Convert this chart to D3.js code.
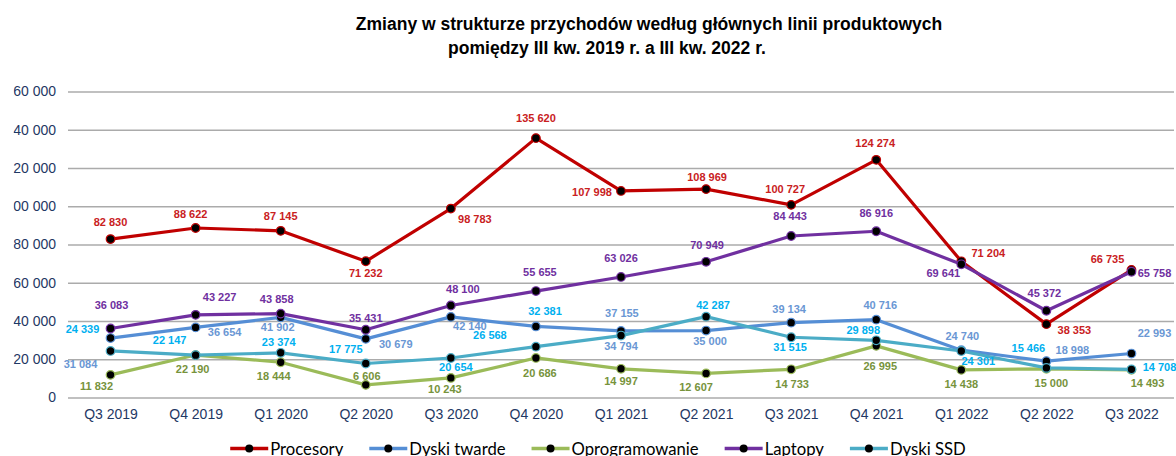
<!DOCTYPE html>
<html>
<head>
<meta charset="utf-8">
<script src="https://cdn.jsdelivr.net/npm/d3@7"></script>
<style>
  html, body { margin: 0; padding: 0; background: #ffffff; }
  svg { display: block; }
</style>
</head>
<body>
<svg id="chart" width="1176" height="456"></svg>
<script>
// ---------------- DATA ----------------
const categories = ["Q3 2019","Q4 2019","Q1 2020","Q2 2020","Q3 2020","Q4 2020","Q1 2021","Q2 2021","Q3 2021","Q4 2021","Q1 2022","Q2 2022","Q3 2022"];
const procesory      = [82830, 88622, 87145, 71232, 98783, 135620, 107998, 108969, 100727, 124274, 71204, 38353, 66735];
const dyskiTwarde    = [31084, 36654, 41902, 30679, 42140, 37155, 34794, 35000, 39134, 40716, 24740, 18998, 22993];
const oprogramowanie = [11832, 22190, 18444, 6606, 10243, 20686, 14997, 12607, 14733, 26995, 14438, 15000, 14493];
const laptopy        = [36083, 43227, 43858, 35431, 48100, 55655, 63026, 70949, 84443, 86916, 69641, 45372, 65758];
const dyskiSSD       = [24339, 22147, 23374, 17775, 20654, 26568, 32381, 42287, 31515, 29898, 24301, 15466, 14708];
const seriesNames    = ["Procesory", "Dyski twarde", "Oprogramowanie", "Laptopy", "Dyski SSD"];
const yTicks         = [0, 20000, 40000, 60000, 80000, 100000, 120000, 140000, 160000];
const titleLines     = ["Zmiany w strukturze przychodów według głównych linii produktowych", "pomiędzy III kw. 2019 r. a III kw. 2022 r."];

// ---------------- STYLE / LAYOUT ----------------
const lineColors  = ["#C00000", "#558ED5", "#9BBB59", "#7030A0", "#4BACC6"];
const labelColors = ["#C9211E", "#6A97D4", "#77933C", "#7030A0", "#00B0F0"];
// data-label offsets (px) relative to each point: [dx, dy]
const labelOffsets = [
  [[0,-17],[-5,-14],[0,-15],[0,12],[24,10],[0,-20],[-29,1],[1,-12],[-6,-16],[-1,-17],[27,-8],[28,6],[-24,-11]],
  [[-30,26],[29,5],[-3,10],[30,5],[19,9],[86,-13],[0,15],[4,10],[-2,-14],[4,-15],[1,-14],[26,-11],[23,-20]],
  [[-14,11],[-3,14],[-7,14],[1,-9],[-6,11],[4,15],[0,12],[-10,14],[1,15],[4,20],[0,14],[5,14],[16,13]],
  [[1,-23],[24,-18],[-4,-15],[0,-12],[12,-16],[4,-19],[0,-19],[1,-17],[-1,-20],[0,-18],[-18,9],[-2,-18],[23,1]],
  [[-28,-22],[-26,-15],[-2,-11],[-20,-14],[5,9],[-46,-12],[-76,-25],[7,-12],[-1,10],[-13,-10],[17,10],[-18,-20],[28,-2]]
];

const seriesValues = [procesory, dyskiTwarde, oprogramowanie, laptopy, dyskiSSD];
const series = seriesNames.map((name, i) => ({
  name, values: seriesValues[i], color: lineColors[i], labelColor: labelColors[i], offsets: labelOffsets[i]
}));

const svg = d3.select("#chart");
svg.append("rect").attr("width", 1176).attr("height", 456).attr("fill", "#ffffff");

const plotLeft = 68, plotRight = 1174, plotTop = 91.5, plotBottom = 397.5;

const x = d3.scalePoint().domain(categories).range([plotLeft, plotRight]).padding(0.5);
const y = d3.scaleLinear().domain([0, 160000]).range([plotBottom, plotTop]);

// Title
svg.append("g").selectAll("text").data(titleLines).join("text")
  .attr("x", (d, i) => i === 0 ? 649 : 607)
  .attr("y", (d, i) => 30 + i * 24)
  .attr("text-anchor", "middle")
  .attr("font-family", "Liberation Sans, Arial, sans-serif")
  .attr("font-weight", "bold")
  .attr("font-size", 17.5)
  .attr("fill", "#000000")
  .text(d => d);

// Gridlines
const yGrid = d3.axisLeft(y).tickValues(yTicks).tickSize(-(plotRight - plotLeft)).tickFormat("");
const gridG = svg.append("g").attr("transform", `translate(${plotLeft},0)`).call(yGrid);
gridG.select(".domain").remove();
gridG.selectAll(".tick line").attr("stroke", "#ABABAB").attr("stroke-width", 1.5);

// Y axis labels (left edge of the picture is cropped, as in the source image)
svg.append("defs").append("clipPath").attr("id", "leftCrop")
  .append("rect").attr("x", 13.5).attr("y", 0).attr("width", 1162).attr("height", 456);
const fmt = v => d3.format(",")(v).replace(/,/g, " ");
const yAxis = d3.axisLeft(y).tickValues(yTicks).tickSize(0).tickPadding(12).tickFormat(fmt);
const yAxisG = svg.append("g").attr("clip-path", "url(#leftCrop)")
  .append("g").attr("transform", `translate(${plotLeft},0)`).call(yAxis);
yAxisG.select(".domain").remove();
yAxisG.selectAll("text")
  .attr("font-family", "Liberation Sans, Arial, sans-serif")
  .attr("font-size", 14)
  .attr("fill", "#1F3864");

// X axis labels
const xAxis = d3.axisBottom(x).tickSize(0).tickPadding(12);
const xAxisG = svg.append("g").attr("transform", `translate(0,${plotBottom})`).call(xAxis);
xAxisG.select(".domain").remove();
xAxisG.selectAll("text")
  .attr("font-family", "Liberation Sans, Arial, sans-serif")
  .attr("font-size", 14)
  .attr("fill", "#1F3864");

// Lines
const line = d3.line().x((d, i) => x(categories[i])).y(d => y(d));
series.forEach(s => {
  svg.append("path")
    .datum(s.values)
    .attr("d", line)
    .attr("fill", "none")
    .attr("stroke", s.color)
    .attr("stroke-width", 3.2)
    .attr("stroke-linejoin", "round")
    .attr("stroke-linecap", "round");
  svg.append("g").selectAll("circle").data(s.values).join("circle")
    .attr("cx", (d, i) => x(categories[i]))
    .attr("cy", d => y(d))
    .attr("r", 4.3)
    .attr("fill", "#000000")
    .attr("stroke", s.color)
    .attr("stroke-width", 1.2);
});

// Data labels
series.forEach(s => {
  svg.append("g").selectAll("text").data(s.values).join("text")
    .attr("x", (d, i) => x(categories[i]) + s.offsets[i][0])
    .attr("y", (d, i) => y(d) + s.offsets[i][1])
    .attr("dy", "0.36em")
    .attr("text-anchor", "middle")
    .attr("font-family", "Liberation Sans, Arial, sans-serif")
    .attr("font-weight", "bold")
    .attr("font-size", 11)
    .attr("fill", s.labelColor)
    .text(d => fmt(d));
});

// Legend
const legendY = 448.5;
const legend = svg.append("g");
const items = legend.selectAll("g").data(series).join("g");
items.append("line").attr("x1", 0).attr("x2", 38).attr("y1", legendY).attr("y2", legendY)
  .attr("stroke", d => d.color).attr("stroke-width", 3.5);
items.append("circle").attr("cx", 19).attr("cy", legendY).attr("r", 4)
  .attr("fill", "#000000");
items.append("text").attr("x", 40).attr("y", legendY).attr("dy", "0.36em")
  .attr("font-family", "Lato, Calibri, sans-serif")
  .attr("font-size", 16.7)
  .attr("fill", "#000000")
  .text(d => d.name);
let cursor = 0;
const positions = [];
items.each(function () {
  const w = d3.select(this).select("text").node().getComputedTextLength();
  positions.push(cursor);
  cursor += 40 + w + 26;
});
const totalW = cursor - 26;
const legendStart = 598 - totalW / 2;
items.attr("transform", (d, i) => `translate(${legendStart + positions[i]},0)`);
</script>
</body>
</html>
